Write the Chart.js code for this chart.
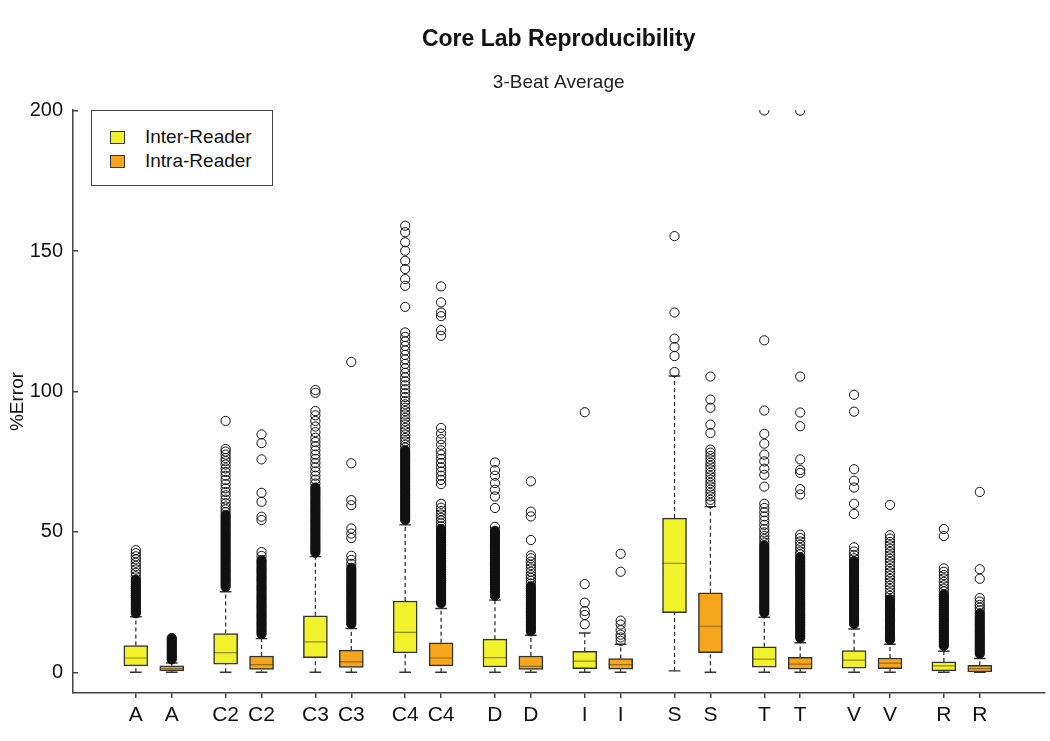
<!DOCTYPE html>
<html>
<head>
<meta charset="utf-8">
<title>Core Lab Reproducibility</title>
<script src="https://cdn.jsdelivr.net/npm/chart.js@4.4.0/dist/chart.umd.min.js"></script>
<style>
    body { margin: 0; background: #ffffff; }
    #wrap { position: relative; width: 1050px; height: 741px; }
    #legend {
        position: absolute; left: 91px; top: 110px; width: 182px; height: 76px;
        box-sizing: border-box; border: 1px solid #444; background: #fff;
        font-family: 'Liberation Sans', Arial, sans-serif; font-size: 19px; color: #111;
    }
    #legend .item { position: absolute; left: 18px; height: 22px; line-height: 22px; display: flex; align-items: center; }
    #legend .swatch { width: 15px; height: 13px; box-sizing: border-box; border: 1px solid #333; margin-right: 20px; }
</style>
</head>
<body>
<div id="wrap">
    <canvas id="boxChart" width="1050" height="741"></canvas>
    <div id="legend">
        <div class="item" style="top:15px"><span class="swatch" style="background:#f2f22c"></span>Inter-Reader</div>
        <div class="item" style="top:39px"><span class="swatch" style="background:#f5a61c"></span>Intra-Reader</div>
    </div>
</div>
<script>
// Box plot data (%Error)
const groups = ['A', 'C2', 'C3', 'C4', 'D', 'I', 'S', 'T', 'V', 'R'];
const yTicks = [0, 50, 100, 150, 200];

// Inter-Reader (yellow)
const interLo  = [0, 0, 0, 0, 0, 0, 0.5, 0, 0, 0];
const interQ1  = [2.3, 2.9, 5.2, 6.9, 1.9, 1.3, 21.2, 1.8, 1.5, 0.5];
const interMed = [5.1, 7.0, 10.8, 14.2, 5.2, 4.0, 38.8, 4.7, 4.3, 2.3];
const interQ3  = [9.5, 13.8, 20.1, 25.4, 11.8, 7.5, 54.9, 9.1, 7.7, 3.7];
const interHi  = [19.8, 28.7, 41.2, 52.5, 25.7, 14.0, 105.5, 19.6, 15.4, 7.5];

// Intra-Reader (orange)
const intraLo  = [0, 0, 0, 0, 0, 0, 0, 0, 0, 0];
const intraQ1  = [0.5, 1.0, 1.7, 2.3, 1.0, 1.1, 7.0, 1.1, 1.3, 0.1];
const intraMed = [1.3, 2.7, 3.7, 5.1, 2.1, 2.7, 16.4, 2.9, 3.3, 1.3];
const intraQ3  = [2.3, 5.8, 7.9, 10.5, 5.8, 4.9, 28.3, 5.3, 5.1, 2.5];
const intraHi  = [3.3, 12.0, 15.6, 22.7, 13.2, 10.0, 59.0, 10.5, 10.0, 4.9];

// Outliers per group
const interOutliers = [
    [21, 21.8, 22.6, 23.4, 24.2, 25, 25.8, 26.6, 27.4, 28.2, 29, 29.8, 30.6, 31.4, 32.2, 33, 34.2, 35.4, 36.6, 37.8, 39, 40.2, 41.3, 42.4, 43.5],
    [30.4, 31.2, 32, 32.8, 33.6, 34.4, 35.2, 36, 36.8, 37.6, 38.4, 39.2, 40, 40.8, 41.6, 42.4, 43.2, 44, 44.8, 45.6, 46.4, 47.2, 48, 48.8, 49.6, 50.4, 51.2, 52, 52.8, 53.6, 54.4, 55.2, 56, 57, 58, 59, 60.2, 61.5, 63, 64.2, 65.5, 67, 68.5, 70, 71.3, 72.6, 74, 75.2, 76.3, 77.5, 78.6, 79.5, 89.5],
    [42.6, 43.4, 44.2, 45, 45.8, 46.6, 47.4, 48.2, 49, 49.8, 50.6, 51.4, 52.2, 53, 53.8, 54.6, 55.4, 56.2, 57, 57.8, 58.6, 59.4, 60.2, 61, 61.8, 62.6, 63.4, 64.2, 65, 65.8, 67.2, 68.6, 70, 71.5, 73, 74.5, 76, 77.5, 79, 80.5, 82, 83.5, 85.5, 87.5, 89.5, 91.5, 93, 99.5, 100.5],
    [54.2, 55, 55.8, 56.6, 57.4, 58.2, 59, 59.8, 60.6, 61.4, 62.2, 63, 63.8, 64.6, 65.4, 66.2, 67, 67.8, 68.6, 69.4, 70.2, 71, 71.8, 72.6, 73.4, 74.2, 75, 75.8, 76.6, 77.4, 78.2, 79, 80, 81, 82.2, 83.4, 84.6, 85.8, 87, 88.2, 89.4, 90.6, 91.8, 93, 94.2, 95.4, 96.6, 98, 99.4, 100.8, 102.2, 103.6, 105, 106.6, 108.2, 109.8, 111.4, 113, 114.6, 116.2, 117.8, 119.4, 121, 130.1, 137.6, 140, 143.6, 146.5, 150.1, 153.1, 156.7, 159],
    [27.2, 28, 28.8, 29.6, 30.4, 31.2, 32, 32.8, 33.6, 34.4, 35.2, 36, 36.8, 37.6, 38.4, 39.2, 40, 40.8, 41.6, 42.4, 43.2, 44, 44.8, 45.6, 46.4, 47.2, 48, 48.8, 49.6, 50.4, 51.8, 58.5, 62.6, 65, 67.4, 70, 72, 74.7],
    [17.1, 20.4, 21.8, 24.8, 31.4, 92.6],
    [106.9, 112.6, 115.8, 118.8, 128.1, 155.3],
    [21.2, 22, 22.8, 23.6, 24.4, 25.2, 26, 26.8, 27.6, 28.4, 29.2, 30, 30.8, 31.6, 32.4, 33.2, 34, 34.8, 35.6, 36.4, 37.2, 38, 38.8, 39.6, 40.4, 41.2, 42, 42.8, 43.6, 44.4, 45.2, 46.2, 47.4, 48.6, 49.8, 51, 52.5, 54, 55.5, 57, 58.5, 60, 66.1, 70.3, 72.5, 75.1, 77.5, 81.4, 84.9, 93.2, 118.2, 200],
    [17.2, 18, 18.8, 19.6, 20.4, 21.2, 22, 22.8, 23.6, 24.4, 25.2, 26, 26.8, 27.6, 28.4, 29.2, 30, 30.8, 31.6, 32.4, 33.2, 34, 34.8, 35.6, 36.4, 37.2, 38, 38.8, 39.6, 40.6, 41.8, 43, 44.5, 56.4, 60, 65.8, 68.2, 72.3, 92.8, 98.8],
    [9.4, 10.2, 11, 11.8, 12.6, 13.4, 14.2, 15, 15.8, 16.6, 17.4, 18.2, 19, 19.8, 20.6, 21.4, 22.2, 23, 23.8, 24.6, 25.4, 26.2, 27, 27.8, 28.8, 29.8, 31, 32.2, 33.4, 34.6, 35.8, 37, 48.5, 51]
];
const intraOutliers = [
    [4.6, 5.3, 6, 6.7, 7.4, 8.1, 8.8, 9.5, 10.2, 10.9, 11.6, 12.2],
    [13.6, 14.4, 15.2, 16, 16.8, 17.6, 18.4, 19.2, 20, 20.8, 21.6, 22.4, 23.2, 24, 24.8, 25.6, 26.4, 27.2, 28, 28.8, 29.6, 30.4, 31.2, 32, 32.8, 33.6, 34.4, 35.2, 36, 36.8, 37.6, 38.4, 39.2, 40, 41.4, 42.8, 54.2, 55.4, 60.7, 63.9, 75.8, 81.6, 84.7],
    [17.2, 18, 18.8, 19.6, 20.4, 21.2, 22, 22.8, 23.6, 24.4, 25.2, 26, 26.8, 27.6, 28.4, 29.2, 30, 30.8, 31.6, 32.4, 33.2, 34, 34.8, 35.6, 36.4, 37.2, 38.6, 40, 41.5, 47.8, 49.4, 51.2, 59.5, 61.3, 74.4, 110.5],
    [24.6, 25.4, 26.2, 27, 27.8, 28.6, 29.4, 30.2, 31, 31.8, 32.6, 33.4, 34.2, 35, 35.8, 36.6, 37.4, 38.2, 39, 39.8, 40.6, 41.4, 42.2, 43, 43.8, 44.6, 45.4, 46.2, 47, 47.8, 48.6, 49.4, 50.2, 51, 52, 53, 54, 55, 56.2, 57.4, 58.6, 60, 67, 68.5, 70, 71.5, 73, 74.5, 76, 77.5, 79, 81, 83, 85, 87, 119.8, 121.8, 126.8, 128.1, 131.7, 137.4],
    [14.6, 15.4, 16.2, 17, 17.8, 18.6, 19.4, 20.2, 21, 21.8, 22.6, 23.4, 24.2, 25, 25.8, 26.6, 27.4, 28.2, 29, 29.8, 30.6, 31.6, 32.6, 33.6, 34.6, 35.8, 37, 38.2, 39.4, 40.6, 41.6, 47.1, 55.5, 57.2, 68],
    [11.2, 12.4, 13.4, 15, 17, 18.4, 35.8, 42.2],
    [60.2, 61.4, 62.6, 63.8, 65, 66.2, 67.4, 68.6, 69.8, 71, 72.2, 73.4, 74.6, 75.8, 77, 78.2, 79.3, 85.2, 88.2, 94.2, 97.1, 105.3],
    [12.2, 13, 13.8, 14.6, 15.4, 16.2, 17, 17.8, 18.6, 19.4, 20.2, 21, 21.8, 22.6, 23.4, 24.2, 25, 25.8, 26.6, 27.4, 28.2, 29, 29.8, 30.6, 31.4, 32.2, 33, 33.8, 34.6, 35.4, 36.2, 37, 37.8, 38.6, 39.4, 40.2, 41, 42, 43, 44.2, 45.4, 46.6, 47.8, 49, 63.3, 65.2, 71, 72, 75.8, 87.6, 92.5, 105.3, 200],
    [11.6, 12.4, 13.2, 14, 14.8, 15.6, 16.4, 17.2, 18, 18.8, 19.6, 20.4, 21.2, 22, 22.8, 23.6, 24.4, 25.2, 26, 27.2, 28.4, 29.6, 30.8, 32, 33.2, 34.4, 35.6, 36.8, 38, 39.2, 40.4, 41.6, 42.8, 44, 45.2, 46.4, 47.6, 48.8, 59.6],
    [6.6, 7.4, 8.2, 9, 9.8, 10.6, 11.4, 12.2, 13, 13.8, 14.6, 15.4, 16.2, 17, 17.8, 18.6, 19.4, 20.2, 21, 22, 23, 24, 25.2, 26.4, 33.3, 36.7, 64.2]
];

const colors = {
    inter: '#f2f22c',
    intra: '#f5a61c',
    edge: '#333333',
    median: 'rgba(70, 60, 20, 0.55)',
    text: '#111111',
    axis: '#444444'
};

Chart.defaults.font.family = "'Liberation Sans', Arial, sans-serif";
Chart.defaults.color = colors.text;

// x position of a box: group index, shifted left (inter) or right (intra)
const pairShift = 0.2;
const boxHalf = 0.133;
const capHalf = 0.065;
const boxX = (g, s) => g + (s === 0 ? -pairShift : pairShift);

const series = [
    { lo: interLo, q1: interQ1, med: interMed, q3: interQ3, hi: interHi, out: interOutliers },
    { lo: intraLo, q1: intraQ1, med: intraMed, q3: intraQ3, hi: intraHi, out: intraOutliers }
];

const tickPos = [];
const tickLabels = [];
groups.forEach((name, g) => {
    tickPos.push(boxX(g, 0), boxX(g, 1));
    tickLabels.push(name, name);
});

// line segments separated by gaps
function segs(list) {
    const pts = [];
    list.forEach(([x1, y1, x2, y2]) => {
        pts.push({ x: x1, y: y1 }, { x: x2, y: y2 }, { x: x2, y: null });
    });
    return pts;
}

const whiskerSegs = [], capSegs = [], medianSegs = [];
groups.forEach((name, g) => {
    series.forEach((s, k) => {
        const x = boxX(g, k);
        whiskerSegs.push([x, s.q3[g], x, s.hi[g]], [x, s.lo[g], x, s.q1[g]]);
        capSegs.push([x - capHalf, s.hi[g], x + capHalf, s.hi[g]], [x - capHalf, s.lo[g], x + capHalf, s.lo[g]]);
        medianSegs.push([x - boxHalf, s.med[g], x + boxHalf, s.med[g]]);
    });
});

// tightly packed outliers merge into a solid column, as in the original
function outlierPoints(k) {
    return groups.flatMap((name, g) => {
        const vals = series[k].out[g];
        return vals.map((v, i) => {
            const gapPrev = i > 0 ? v - vals[i - 1] : Infinity;
            const gapNext = i < vals.length - 1 ? vals[i + 1] - v : Infinity;
            return { x: boxX(g, k), y: v, packed: Math.min(gapPrev, gapNext) <= 0.85 };
        });
    });
}
const boxBars = k => groups.map((name, g) => ({ x: boxX(g, k), y: [series[k].q1[g], series[k].q3[g]] }));

const outlierStyle = {
    type: 'scatter',
    pointStyle: 'circle',
    pointRadius: 4.6,
    pointBorderWidth: 1,
    pointBorderColor: '#111',
    pointBackgroundColor: ctx => (ctx.raw && ctx.raw.packed ? '#111' : 'rgba(0,0,0,0)'),
    borderColor: '#111',
    backgroundColor: 'rgba(0,0,0,0)'
};

new Chart(document.getElementById('boxChart'), {
    type: 'bar',
    data: {
        datasets: [
            Object.assign({ label: 'Inter outliers', data: outlierPoints(0) }, outlierStyle),
            Object.assign({ label: 'Intra outliers', data: outlierPoints(1) }, outlierStyle),
            {
                type: 'line', label: 'median', data: segs(medianSegs),
                borderColor: colors.median, borderWidth: 1.2, pointRadius: 0
            },
            {
                type: 'line', label: 'caps', data: segs(capSegs),
                borderColor: colors.edge, borderWidth: 1.4, pointRadius: 0
            },
            {
                type: 'line', label: 'whiskers', data: segs(whiskerSegs),
                borderColor: colors.edge, borderWidth: 1.3, borderDash: [4, 3], pointRadius: 0
            },
            {
                type: 'bar', label: 'Inter-Reader', data: boxBars(0),
                backgroundColor: colors.inter, borderColor: colors.edge, borderWidth: 1.5,
                borderSkipped: false, barThickness: 24, grouped: false
            },
            {
                type: 'bar', label: 'Intra-Reader', data: boxBars(1),
                backgroundColor: colors.intra, borderColor: colors.edge, borderWidth: 1.5,
                borderSkipped: false, barThickness: 24, grouped: false
            }
        ]
    },
    options: {
        responsive: false,
        animation: false,
        devicePixelRatio: 1,
        events: [],
        layout: { padding: { left: 0, right: 3, top: 0, bottom: 0 } },
        plugins: {
            legend: { display: false },
            tooltip: { enabled: false },
            title: {
                display: true,
                text: 'Core Lab Reproducibility',
                fullSize: false,
                color: colors.text,
                font: { size: 23, weight: 'bold' },
                padding: { top: 26, bottom: 6 }
            },
            subtitle: {
                display: true,
                text: '3-Beat Average',
                fullSize: false,
                color: '#222',
                font: { size: 19 },
                padding: { top: 12, bottom: 15.6 }
            }
        },
        scales: {
            x: {
                type: 'linear',
                min: -0.9,
                max: 9.92,
                offset: false,
                afterFit: scale => { scale.height = 48; },
                afterBuildTicks: axis => { axis.ticks = tickPos.map(v => ({ value: v })); },
                grid: { offset: false, drawOnChartArea: false, drawTicks: true, tickLength: 5, color: colors.axis, lineWidth: 1.5 },
                border: { display: true, color: colors.axis, width: 1.5 },
                ticks: {
                    autoSkip: false,
                    maxRotation: 0,
                    padding: 5,
                    font: { size: 21 },
                    color: colors.text,
                    callback: (value, index) => tickLabels[index]
                }
            },
            y: {
                min: -7.37,
                max: 200.2,
                afterFit: scale => { scale.width = 73; },
                afterBuildTicks: axis => { axis.ticks = yTicks.map(v => ({ value: v })); },
                grid: { drawOnChartArea: false, drawTicks: true, tickLength: -5, color: colors.axis, lineWidth: 1.5 },
                border: { display: true, color: colors.axis, width: 1.5 },
                ticks: { padding: 15, font: { size: 20 }, color: colors.text },
                title: {
                    display: true,
                    text: '%Error',
                    font: { size: 19 },
                    color: colors.text,
                    padding: { top: 6, bottom: 0 }
                }
            }
        }
    }
});
</script>
</body>
</html>
